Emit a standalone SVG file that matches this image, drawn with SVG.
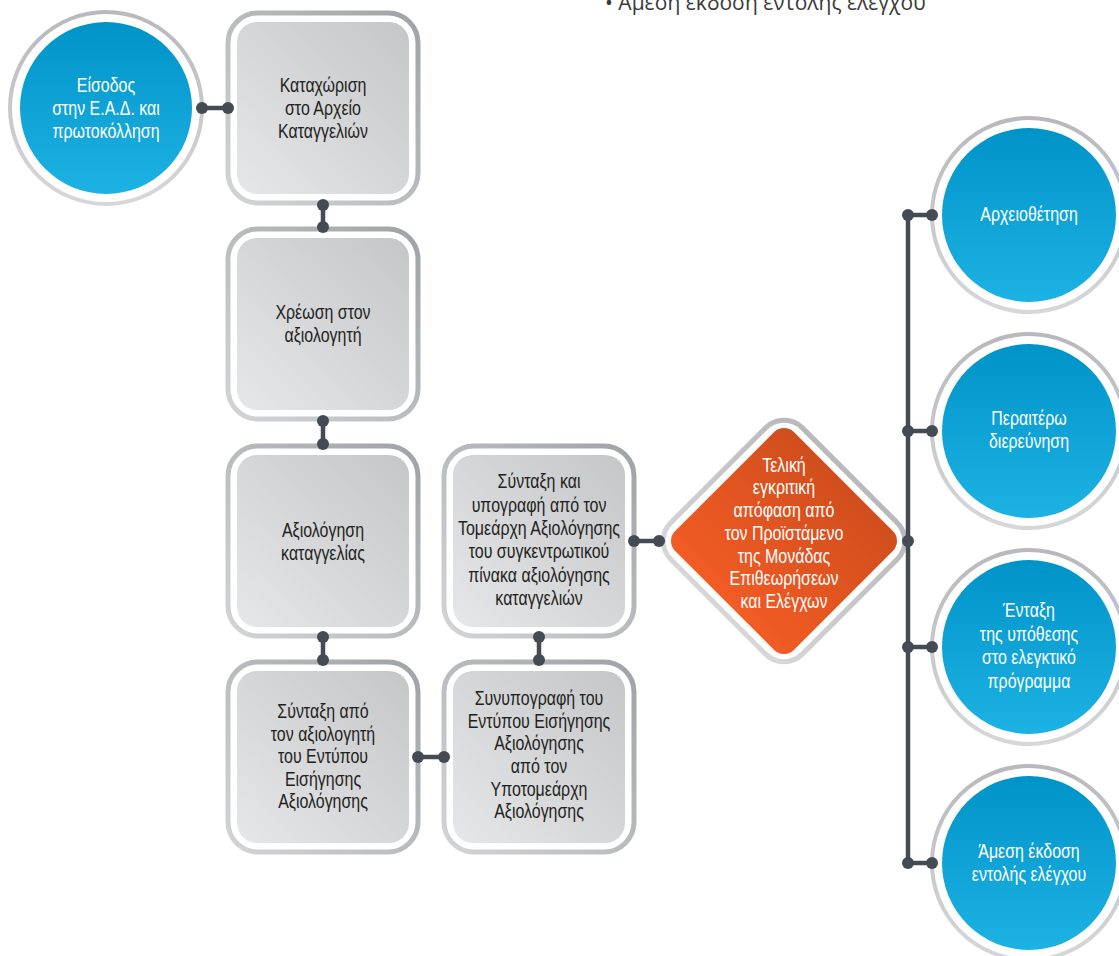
<svg xmlns="http://www.w3.org/2000/svg" width="1119" height="956" viewBox="0 0 1119 956">
<defs>
<linearGradient id="gBlue" x1="0" y1="0" x2="0" y2="1"><stop offset="0" stop-color="#0093c8"/><stop offset="1" stop-color="#1db2e4"/></linearGradient>
<linearGradient id="gOrange" x1="0" y1="0" x2="0" y2="1"><stop offset="0" stop-color="#d04e1d"/><stop offset="1" stop-color="#f25b24"/></linearGradient>
<linearGradient id="gBox" x1="1" y1="0" x2="0" y2="1"><stop offset="0" stop-color="#c5c6c8"/><stop offset="1" stop-color="#e6e7e8"/></linearGradient>
<linearGradient id="gRing" x1="1" y1="0" x2="0" y2="1"><stop offset="0" stop-color="#9fa3a7"/><stop offset="1" stop-color="#d3d4d6"/></linearGradient>
<linearGradient id="gRingC" x1="0" y1="0" x2="0" y2="1"><stop offset="0" stop-color="#b7b9bc"/><stop offset="1" stop-color="#d6d7d9"/></linearGradient>
</defs>
<style>
.ring{fill:#fff;stroke:url(#gRing);stroke-width:5}
.cring{fill:#fff;stroke:url(#gRingC);stroke-width:4}
.inner{fill:url(#gBox)}
.blue{fill:url(#gBlue)}
.t{font-family:"Liberation Sans",Arial,sans-serif;font-size:21px;text-anchor:middle}
.dk{fill:#231f20}
.wh{fill:#fff}
.ln{stroke:#454b54;stroke-width:4.5;fill:none}
.dot{fill:#454b54}
.top{font-family:"Open Sans","Noto Sans",sans-serif;font-size:21px;fill:#3a3a3a}
</style>
<text class="top" x="605" y="10">• Άμεση έκδοση εντολής ελέγχου</text>

<g id="n-eisodos">
<circle class="cring" cx="106" cy="108" r="96"/>
<circle class="blue" cx="106" cy="108" r="86"/>
<text class="t wh" transform="translate(106 0) scale(0.76 1)"><tspan x="0" y="92">Είσοδος</tspan><tspan x="0" y="115">στην Ε.Α.Δ. και</tspan><tspan x="0" y="138">πρωτοκόλληση</tspan></text>
</g>

<g id="n-katachorisi">
<rect class="ring" x="228" y="13" width="190" height="190" rx="30"/>
<rect class="inner" x="237" y="22" width="172" height="172" rx="20"/>
<text class="t dk" transform="translate(323 0) scale(0.76 1)"><tspan x="0" y="92">Καταχώριση</tspan><tspan x="0" y="115">στο Αρχείο</tspan><tspan x="0" y="138">Καταγγελιών</tspan></text>
</g>

<g id="n-chreosi">
<rect class="ring" x="228" y="229" width="190" height="190" rx="30"/>
<rect class="inner" x="237" y="238" width="172" height="172" rx="20"/>
<text class="t dk" transform="translate(323 0) scale(0.76 1)"><tspan x="0" y="319">Χρέωση στον</tspan><tspan x="0" y="342">αξιολογητή</tspan></text>
</g>

<g id="n-axiologisi">
<rect class="ring" x="228" y="446" width="190" height="190" rx="30"/>
<rect class="inner" x="237" y="455" width="172" height="172" rx="20"/>
<text class="t dk" transform="translate(323 0) scale(0.76 1)"><tspan x="0" y="537">Αξιολόγηση</tspan><tspan x="0" y="560">καταγγελίας</tspan></text>
</g>

<g id="n-syntaxi-apo">
<rect class="ring" x="228" y="662" width="190" height="190" rx="30"/>
<rect class="inner" x="237" y="671" width="172" height="172" rx="20"/>
<text class="t dk" transform="translate(323 0) scale(0.76 1)"><tspan x="0" y="718">Σύνταξη από</tspan><tspan x="0" y="741">τον αξιολογητή</tspan><tspan x="0" y="763">του Εντύπου</tspan><tspan x="0" y="786">Εισήγησης</tspan><tspan x="0" y="808">Αξιολόγησης</tspan></text>
</g>

<g id="n-synypografi">
<rect class="ring" x="444" y="662" width="190" height="190" rx="30"/>
<rect class="inner" x="453" y="671" width="172" height="172" rx="20"/>
<text class="t dk" transform="translate(539 0) scale(0.76 1)"><tspan x="0" y="705">Συνυπογραφή του</tspan><tspan x="0" y="728">Εντύπου Εισήγησης</tspan><tspan x="0" y="750">Αξιολόγησης</tspan><tspan x="0" y="773">από τον</tspan><tspan x="0" y="796">Υποτομεάρχη</tspan><tspan x="0" y="818">Αξιολόγησης</tspan></text>
</g>

<g id="n-syntaxi-kai">
<rect class="ring" x="444" y="446" width="190" height="190" rx="30"/>
<rect class="inner" x="453" y="455" width="172" height="172" rx="20"/>
<text class="t dk" transform="translate(539 0) scale(0.76 1)"><tspan x="0" y="488">Σύνταξη και</tspan><tspan x="0" y="512">υπογραφή από τον</tspan><tspan x="0" y="535">Τομεάρχη Αξιολόγησης</tspan><tspan x="0" y="558">του συγκεντρωτικού</tspan><tspan x="0" y="582">πίνακα αξιολόγησης</tspan><tspan x="0" y="605">καταγγελιών</tspan></text>
</g>

<g id="n-apofasi">
<rect x="-93" y="-93" width="186" height="186" rx="26" fill="#fff" stroke="url(#gRingC)" stroke-width="5" transform="translate(784 541) rotate(45)"/>
<rect x="-84" y="-84" width="168" height="168" rx="14" fill="url(#gOrange)" transform="translate(784 541) rotate(45)"/>
<text class="t wh" transform="translate(784 0) scale(0.76 1)"><tspan x="0" y="472">Τελική</tspan><tspan x="0" y="494">εγκριτική</tspan><tspan x="0" y="517">απόφαση από</tspan><tspan x="0" y="540">τον Προϊστάμενο</tspan><tspan x="0" y="563">της Μονάδας</tspan><tspan x="0" y="585">Επιθεωρήσεων</tspan><tspan x="0" y="608">και Ελέγχων</tspan></text>
</g>

<g id="n-archeiothetisi">
<circle class="cring" cx="1029" cy="215" r="97"/>
<circle class="blue" cx="1029" cy="215" r="87"/>
<text class="t wh" transform="translate(1029 0) scale(0.76 1)"><tspan x="0" y="221">Αρχειοθέτηση</tspan></text>
</g>

<g id="n-peraitero">
<circle class="cring" cx="1029" cy="431" r="97"/>
<circle class="blue" cx="1029" cy="431" r="87"/>
<text class="t wh" transform="translate(1029 0) scale(0.76 1)"><tspan x="0" y="425">Περαιτέρω</tspan><tspan x="0" y="448">διερεύνηση</tspan></text>
</g>

<g id="n-entaxi">
<circle class="cring" cx="1029" cy="647" r="97"/>
<circle class="blue" cx="1029" cy="647" r="87"/>
<text class="t wh" transform="translate(1029 0) scale(0.76 1)"><tspan x="0" y="617">Ένταξη</tspan><tspan x="0" y="641">της υπόθεσης</tspan><tspan x="0" y="664">στο ελεγκτικό</tspan><tspan x="0" y="688">πρόγραμμα</tspan></text>
</g>

<g id="n-amesi">
<circle class="cring" cx="1029" cy="863" r="97"/>
<circle class="blue" cx="1029" cy="863" r="87"/>
<text class="t wh" transform="translate(1029 0) scale(0.76 1)"><tspan x="0" y="858">Άμεση έκδοση</tspan><tspan x="0" y="881">εντολής ελέγχου</tspan></text>
</g>

<g id="connectors">
<path class="ln" d="M202 108H228 M323 205V227 M323 421V444 M323 637V660 M418 757H444 M539 637V660 M634 541H659 M908 215V863 M908 215H932 M908 431H932 M908 647H932 M908 863H932"/>
<g class="dot">
<circle cx="202" cy="108" r="6"/><circle cx="228" cy="108" r="6"/>
<circle cx="323" cy="205" r="6"/><circle cx="323" cy="227" r="6"/>
<circle cx="323" cy="421" r="6"/><circle cx="323" cy="444" r="6"/>
<circle cx="323" cy="637" r="6"/><circle cx="323" cy="660" r="6"/>
<circle cx="418" cy="757" r="6"/><circle cx="444" cy="757" r="6"/>
<circle cx="539" cy="637" r="6"/><circle cx="539" cy="660" r="6"/>
<circle cx="634" cy="541" r="6"/><circle cx="659" cy="541" r="6"/>
<circle cx="908" cy="541" r="6"/>
<circle cx="908" cy="215" r="6"/><circle cx="932" cy="215" r="6"/>
<circle cx="908" cy="431" r="6"/><circle cx="932" cy="431" r="6"/>
<circle cx="908" cy="647" r="6"/><circle cx="932" cy="647" r="6"/>
<circle cx="908" cy="863" r="6"/><circle cx="932" cy="863" r="6"/>
</g>
</g>
</svg>
